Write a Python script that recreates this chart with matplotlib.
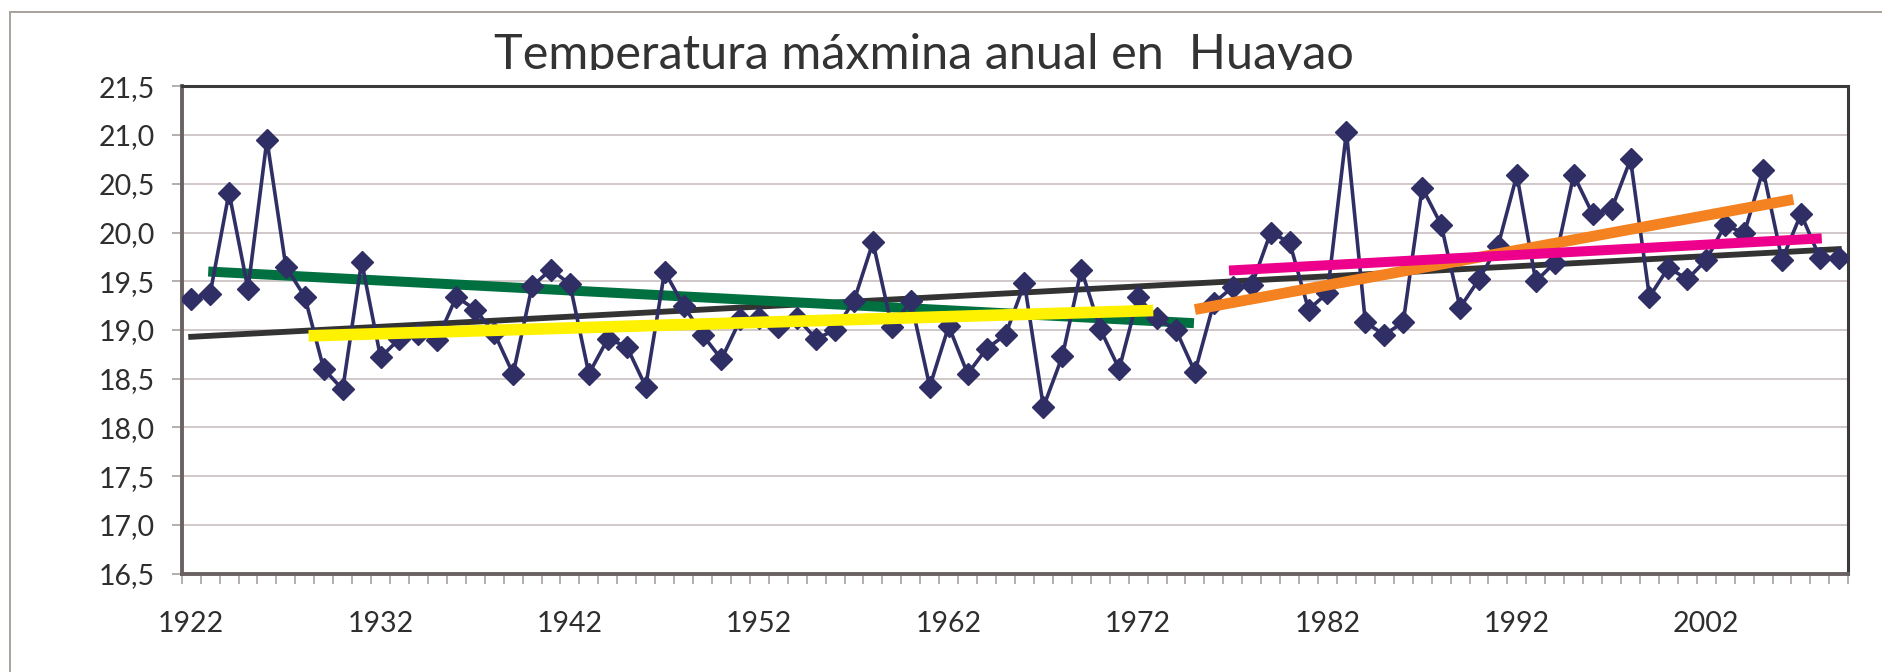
from matplotlib import pyplot as plt
from matplotlib.lines import Line2D
from matplotlib.transforms import Bbox
import matplotlib.ticker as mticker

# annual max temperature, Huayao (one value per year)
years = list(range(1922, 2010))
tmax = [19.32, 19.37, 20.41, 19.42, 20.95, 19.65, 19.34, 18.60, 18.39, 19.70,
        18.72, 18.91, 18.96, 18.90, 19.34, 19.21, 18.97, 18.55, 19.45, 19.62,
        19.47, 18.55, 18.91, 18.83, 18.42, 19.60, 19.25, 18.95, 18.70, 19.11,
        19.12, 19.03, 19.12, 18.91, 19.00, 19.30, 19.90, 19.03, 19.30, 18.42,
        19.04, 18.55, 18.81, 18.95, 19.48, 18.21, 18.73, 19.62, 19.01, 18.60,
        19.34, 19.12, 19.00, 18.57, 19.28, 19.44, 19.46, 20.00, 19.90, 19.21,
        19.38, 21.03, 19.08, 18.95, 19.08, 20.46, 20.08, 19.23, 19.52, 19.86,
        20.59, 19.50, 19.69, 20.59, 20.19, 20.24, 20.75, 19.34, 19.64, 19.52,
        19.72, 20.08, 19.99, 20.64, 19.72, 20.19, 19.74, 19.74]

# trend lines (start, end)
trend_all_x = [1922, 2009]
trend_all_y = [18.93, 19.83]
green_x = [1922.9, 1974.95]
green_y = [19.60, 19.07]
yellow_x = [1928.2, 1972.8]
yellow_y = [18.94, 19.20]
orange_x = [1975.0, 2006.6]
orange_y = [19.21, 20.34]
pink_x = [1976.8, 2008.1]
pink_y = [19.61, 19.94]

yticks = [16.5, 17.0, 17.5, 18.0, 18.5, 19.0, 19.5, 20.0, 20.5, 21.0, 21.5]
xlabels = [1922, 1932, 1942, 1952, 1962, 1972, 1982, 1992, 2002]

title = "Temperatura máxmina anual en  Huayao"


def main():
    plt.rcParams['font.family'] = ['Lato', 'DejaVu Sans']
    W, H = 1883, 672
    fig = plt.figure(figsize=(W / 100, H / 100), dpi=100)
    ax = fig.add_axes([181.7 / W, 1 - 573.7 / H, (1848.3 - 181.7) / W, (573.7 - 86.3) / H])

    ax.plot(trend_all_x, trend_all_y, color='#333333', lw=4.2, zorder=2)
    ax.plot(green_x, green_y, color='#007040', lw=7.2, zorder=2, solid_capstyle='butt')
    ax.plot(years, tmax, color='#2f2f66', lw=2.6, marker='D', ms=11.5,
            markerfacecolor='#2f2f66', markeredgecolor='#2f2f66', zorder=3)
    ax.plot(yellow_x, yellow_y, color='#fff200', lw=8.4, zorder=4, solid_capstyle='butt')
    ax.plot(orange_x, orange_y, color='#f58220', lw=7.8, zorder=4, solid_capstyle='butt')
    ax.plot(pink_x, pink_y, color='#ec008c', lw=7.2, zorder=5, solid_capstyle='butt')

    ax.set_xlim(1921.5, 2009.5)
    ax.set_ylim(16.5, 21.5)
    ax.set_yticks(yticks)
    ax.set_yticklabels([('%.1f' % v).replace('.', ',') for v in yticks])
    ax.yaxis.grid(True, color='#c9c0c0', lw=1.2)
    ax.set_axisbelow(True)

    ax.set_xticks(xlabels)
    ax.set_xticklabels([str(y) for y in xlabels])
    ax.xaxis.set_minor_locator(mticker.FixedLocator([y + 0.5 for y in range(1921, 2010)]))
    ax.tick_params(axis='x', which='major', length=0, pad=27, labelsize=20.5, labelcolor='#2e2e2e')
    ax.tick_params(axis='x', which='minor', length=7, width=1.1, color='#a09898', direction='out')
    ax.tick_params(axis='y', length=7, width=1.1, color='#a09898', pad=12,
                   labelsize=20.5, labelcolor='#2e2e2e')

    for s in ['top', 'right']:
        ax.spines[s].set_color('#3a3a3a')
        ax.spines[s].set_linewidth(2.2)
    for s in ['left', 'bottom']:
        ax.spines[s].set_color('#6a6262')
        ax.spines[s].set_linewidth(2.8)

    # outer frame (top and left edges only visible)
    fig.add_artist(Line2D([10 / W, 10 / W], [0, 1 - 12 / H], color='#a8a29c', lw=1.4))
    fig.add_artist(Line2D([10 / W, 1], [1 - 12 / H, 1 - 12 / H], color='#a8a29c', lw=1.4))

    t = fig.text(924 / W, 1 - 69 / H, title, ha='center', va='baseline',
                 fontsize=35, color='#333333')
    t.set_clip_box(Bbox.from_extents(0, H - 70, W, H))
    t.set_clip_on(True)

    fig.savefig('out.png', dpi=100, facecolor='white')
    plt.close()


if __name__ == '__main__':
    main()
